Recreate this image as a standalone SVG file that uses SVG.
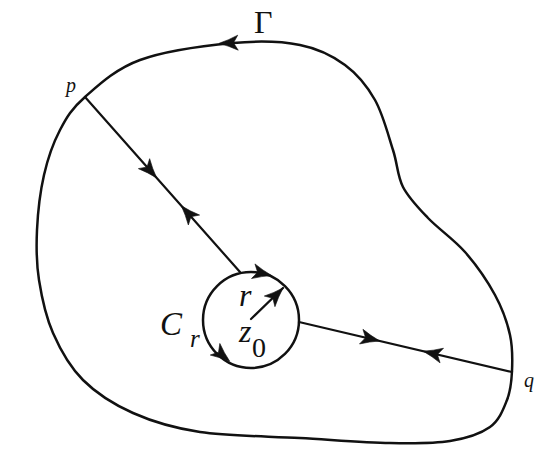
<svg xmlns="http://www.w3.org/2000/svg" xmlns:xlink="http://www.w3.org/1999/xlink" width="557" height="454" viewBox="0 0 557 454">
<style>
.ln{fill:none;stroke:#111;stroke-width:2.5;stroke-linecap:round;stroke-linejoin:round}
.cut{fill:none;stroke:#111;stroke-width:2.2;stroke-linecap:round}
.ah{fill:#111;stroke:#111;stroke-width:0.6;stroke-linejoin:round}
.it{font-family:"Liberation Serif","Times New Roman",serif;font-style:italic;fill:#111}
.up{font-family:"Liberation Serif","Times New Roman",serif;fill:#111}
</style>
<defs>
<path id="ah" class="ah" d="M10,0 Q0,-3 -9,-7.5 L-4.5,0 L-9,7.5 Q0,3 10,0 Z"/>
</defs>
<rect width="557" height="454" fill="#fff"/>
<g id="gamma">
<path class="ln" d="M85,97 C98.3,85.3 115.3,69 140,60 C164.7,51 206.3,45.5 233,43 C259.7,40.5 281.3,41.3 300,45 C318.7,48.7 332.5,55.8 345,65 C357.5,74.2 367,85.8 375,100 C383,114.2 388.3,135.5 393,150 C397.7,164.5 397.2,175.7 403,187 C408.8,198.3 417.7,207.2 428,218 C438.3,228.8 453.8,239.2 465,252 C476.2,264.8 487.5,281.2 495,295 C502.5,308.8 507.2,322.3 510,335 C512.8,347.7 512.5,360.2 512,371 C511.5,381.8 510.7,390.7 507,400 C503.3,409.3 499.5,420.2 490,427 C480.5,433.8 466.7,438.3 450,441 C433.3,443.7 415,443.5 390,443 C365,442.5 331.7,439.8 300,438 C268.3,436.2 227.8,436.2 200,432 C172.2,427.8 152.5,421.7 133,413 C113.5,404.3 96.3,393.3 83,380 C69.7,366.7 60.3,349.7 53,333 C45.7,316.3 41.7,297.2 39,280 C36.3,262.8 36.2,247.5 37,230 C37.8,212.5 40.2,191.7 44,175 C47.8,158.3 53.2,143 60,130 C66.8,117 71.7,108.7 85,97 Z"/>
<text class="up" x="254" y="33" font-size="32">Γ</text>
</g>
<g id="circle">
<circle class="ln" cx="251" cy="320" r="48"/>
<text class="it" x="160" y="335" font-size="33">C</text>
<text class="it" x="190" y="347" font-size="25">r</text>
</g>
<g id="center">
<line class="cut" x1="251" y1="319" x2="283" y2="288"/>
<text class="it" x="239" y="306" font-size="32">r</text>
<text class="it" x="239" y="342" font-size="32">z</text>
<text class="up" x="252" y="357" font-size="28">0</text>
</g>
<g id="p">
<text class="it" x="66" y="92" font-size="20">p</text>
</g>
<g id="q">
<text class="it" x="524" y="387" font-size="20">q</text>
</g>
<g id="connectors">
<line class="cut" x1="85" y1="97" x2="240" y2="272"/>
<line class="cut" x1="299" y1="322" x2="512" y2="372"/>
</g>
<g id="arrowheads">
<use xlink:href="#ah" transform="translate(229,43) rotate(178)"/>
<use xlink:href="#ah" transform="translate(150,170.4) rotate(48.5)"/>
<use xlink:href="#ah" transform="translate(188,213.3) rotate(228.5)"/>
<use xlink:href="#ah" transform="translate(370,338.7) rotate(13.2)"/>
<use xlink:href="#ah" transform="translate(433,353.5) rotate(193.2)"/>
<use xlink:href="#ah" transform="translate(262,273.3) rotate(13.3)"/>
<use xlink:href="#ah" transform="translate(222,355) rotate(39.6)"/>
<use xlink:href="#ah" transform="translate(276,295) rotate(-45)"/>
</g>
</svg>
